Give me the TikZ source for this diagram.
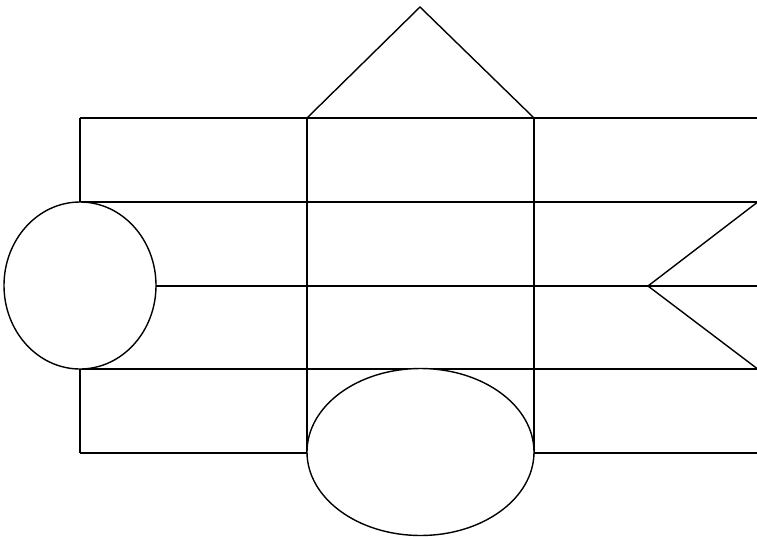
\documentclass[tikz,border=0pt]{standalone}
\usetikzlibrary{shapes.geometric}
\begin{document}
\begin{tikzpicture}[x=1pt,y=-1pt,line width=1.4pt,
  shapeline/.style={draw=black,line width=1.4pt},
  oval/.style={shapeline,ellipse,fill=white,inner sep=0pt,outer sep=0pt}]
\useasboundingbox (0,0) rectangle (757,536);
\clip (0,0) rectangle (757,536);
% horizontal lines
\draw[shapeline] (80,118) -- (760,118);
\draw[shapeline] (80,202) -- (760,202);
\draw[shapeline] (156,286) -- (760,286);
\draw[shapeline] (80,369) -- (760,369);
\draw[shapeline] (80,453) -- (307,453);
\draw[shapeline] (534,453) -- (760,453);
% vertical lines
\draw[shapeline] (80,118) -- (80,202);
\draw[shapeline] (80,369) -- (80,453);
\draw[shapeline] (307,118) -- (307,453);
\draw[shapeline] (534,118) -- (534,453);
% roof triangle
\draw[shapeline,line join=miter] (307,118) -- (420,7) -- (534,118);
% notch on the right
\draw[shapeline,line join=miter] (759,201) -- (648,286) -- (759,370);
% ovals
\node[oval,minimum width=152pt,minimum height=167pt] (leftoval) at (80,285.5) {};
\node[oval,minimum width=227pt,minimum height=167pt] (bottomoval) at (420.5,452) {};
\end{tikzpicture}
\end{document}
